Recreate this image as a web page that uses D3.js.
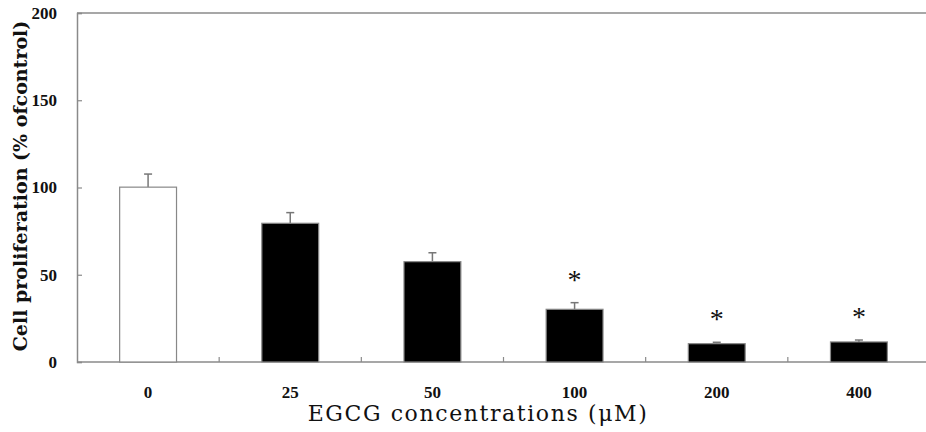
<!DOCTYPE html>
<html><head><meta charset="utf-8">
<script src="https://cdn.jsdelivr.net/npm/d3@7"></script>
<style>body{margin:0;background:#fff}svg{display:block}svg text{font-family:"Liberation Serif","DejaVu Serif",serif}svg text.ttl{font-family:"DejaVu Serif",serif}</style>
</head><body><svg id="c" width="926" height="432"></svg>
<script>
const categories = ["0","25","50","100","200","400"];
const values = [100.2, 79.5, 57.5, 30.2, 10.5, 11.5];
const errors = [7.5, 6.1, 5.1, 3.8, 0.8, 1.1];
const significant = [false, false, false, true, true, true];
const yTicks = [0, 50, 100, 150, 200];

const svg = d3.select("#c");
const m = {left:77, top:13, right:930, bottom:362};
const x = d3.scaleBand().domain(categories).range([m.left, m.right]).paddingInner(0.6).paddingOuter(0.3);
const y = d3.scaleLinear().domain([0,200]).range([m.bottom, m.top]);
const axisColor = "#8a8a8a";

// top border
svg.append("line").attr("x1",m.left).attr("x2",926).attr("y1",y(200)).attr("y2",y(200))
  .attr("stroke",axisColor).attr("stroke-width",1.5);

// Y axis
const ya = svg.append("g").attr("transform",`translate(${m.left},0)`)
  .call(d3.axisLeft(y).tickValues(yTicks).tickSize(-5).tickPadding(20));
ya.attr("font-family",null);
ya.select(".domain").attr("stroke",axisColor).attr("stroke-width",1.5);
ya.selectAll(".tick line").attr("stroke",axisColor).attr("stroke-width",1.2);
ya.selectAll(".tick text").attr("font-size",17).attr("font-weight","bold").attr("fill","#111");

// X axis labels, baseline and ticks between categories
const xa = svg.append("g").attr("transform",`translate(0,${m.bottom})`)
  .call(d3.axisBottom(x).tickSize(0).tickPadding(24));
xa.attr("font-family",null);
xa.select(".domain").remove();
xa.selectAll(".tick text").attr("font-size",17).attr("font-weight","bold").attr("fill","#111");
svg.append("line").attr("x1",m.left).attr("x2",926).attr("y1",m.bottom).attr("y2",m.bottom)
  .attr("stroke",axisColor).attr("stroke-width",1.5);
const step = x.step();
svg.selectAll("line.sep").data(categories.slice(0,-1)).join("line").attr("class","sep")
  .attr("x1",d=>x(d)+x.bandwidth()/2+step/2).attr("x2",d=>x(d)+x.bandwidth()/2+step/2)
  .attr("y1",m.bottom).attr("y2",m.bottom-5).attr("stroke",axisColor).attr("stroke-width",1.2);

// error bars
const cx = d => x(d)+x.bandwidth()/2;
svg.selectAll("line.err").data(categories).join("line").attr("class","err")
  .attr("x1",cx).attr("x2",cx).attr("y1",(d,i)=>y(values[i])).attr("y2",(d,i)=>y(values[i]+errors[i]))
  .attr("stroke","#777").attr("stroke-width",1.5);
svg.selectAll("line.cap").data(categories).join("line").attr("class","cap")
  .attr("x1",d=>cx(d)-4).attr("x2",d=>cx(d)+4).attr("y1",(d,i)=>y(values[i]+errors[i])).attr("y2",(d,i)=>y(values[i]+errors[i]))
  .attr("stroke","#777").attr("stroke-width",1.5);

// bars
svg.selectAll("rect.bar").data(categories).join("rect").attr("class","bar")
  .attr("x",d=>x(d)).attr("width",x.bandwidth())
  .attr("y",(d,i)=>y(values[i])).attr("height",(d,i)=>y(0)-y(values[i]))
  .attr("fill",(d,i)=>i===0?"#fff":"#000").attr("stroke","#888").attr("stroke-width",1.2);

// asterisks
svg.selectAll("text.star").data(categories.filter((d,i)=>significant[i])).join("text").attr("class","star")
  .attr("x",cx).attr("y",d=>{const i=categories.indexOf(d);return y(values[i]+errors[i])-14;})
  .attr("text-anchor","middle").attr("font-size",28).attr("fill","#111").text("*");

// titles
svg.append("text").attr("class","ttl").attr("transform","translate(27,186) rotate(-90)").attr("text-anchor","middle")
  .attr("font-size",19).attr("font-weight","bold").attr("fill","#111").text("Cell proliferation (% ofcontrol)");
svg.append("text").attr("class","ttl").attr("x",478).attr("y",421).attr("text-anchor","middle")
  .attr("font-size",22).attr("letter-spacing",1.6).attr("fill","#111").text("EGCG concentrations (μM)");
</script></body></html>
